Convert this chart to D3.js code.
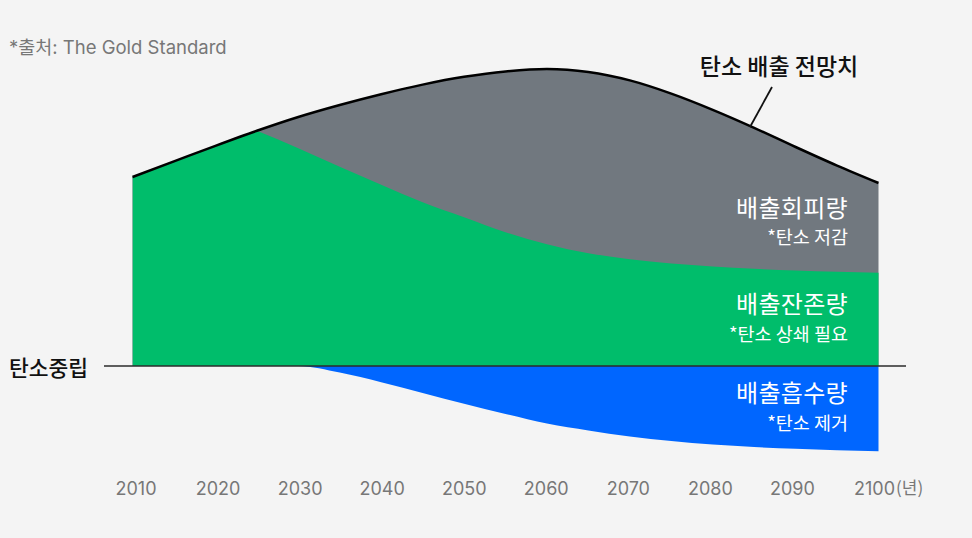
<!DOCTYPE html>
<html>
<head>
<meta charset="utf-8">
<script src="https://cdn.jsdelivr.net/npm/d3@7"></script>
<style>
  body { margin:0; background:#f4f4f4; }
  svg { display:block; font-family:"Noto Sans CJK KR", "Noto Sans", sans-serif; }
</style>
</head>
<body>
<script>
// years
var years = [2010, 2015, 2020, 2025, 2030, 2035, 2040, 2045, 2050, 2055, 2060, 2065, 2070, 2075, 2080, 2085, 2090, 2095, 2100];
// emission outlook (top black line)
var outlook = [31.5, 34.1, 36.7, 39.2, 41.5, 43.5, 45.3, 46.9, 48.2, 49.1, 49.5, 49.0, 47.6, 45.4, 42.7, 39.7, 36.5, 33.4, 30.5];
// remaining emissions (green), splits from the outlook at 2025
var remaining = [31.5, 34.1, 36.7, 39.2, 36.3, 33.2, 30.2, 27.3, 24.8, 22.3, 20.3, 18.8, 17.8, 17.1, 16.6, 16.2, 15.9, 15.7, 15.55];
// removal (blue, below zero)
var removal = [0, 0, 0, 0, 0, -1.1, -2.7, -4.5, -6.3, -8.0, -9.6, -10.75, -11.75, -12.5, -13.1, -13.5, -13.8, -14.05, -14.2];
var tickYears = [2010, 2020, 2030, 2040, 2050, 2060, 2070, 2080, 2090, 2100];
var splitYear = 2025;

var data = years.map(function(y, i){ return {year:y, top:outlook[i], rem:remaining[i], rmv:removal[i]}; });
var after = data.filter(function(d){ return d.year >= splitYear; });

var width = 972, height = 538;
var svg = d3.select("body").append("svg").attr("width", width).attr("height", height);

var x = d3.scaleLinear().domain([2010, 2100]).range([132.5, 878.5]);
var xTick = d3.scaleLinear().domain([2010, 2100]).range([135.5, 874]);
var y = d3.scaleLinear().domain([0, 50]).range([366, 66]);

var curve = d3.curveMonotoneX;

var defs = svg.append("defs");
defs.append("clipPath").attr("id", "leftClip").append("rect")
    .attr("x", x(2010)).attr("y", 0).attr("width", x(splitYear) - x(2010) + 0.8).attr("height", y(0));

// gray = avoided emissions (everything under the outlook)
svg.append("path")
   .attr("d", d3.area().curve(curve)
      .x(function(d){ return x(d.year); })
      .y0(y(0))
      .y1(function(d){ return y(d.top); })(data))
   .attr("fill", "#71787f");

// green = remaining: follows the outlook up to 2025, then its own curve
svg.append("path")
   .attr("clip-path", "url(#leftClip)")
   .attr("d", d3.area().curve(curve)
      .x(function(d){ return x(d.year); })
      .y0(y(0))
      .y1(function(d){ return y(d.top); })(data))
   .attr("fill", "#00bd6b");
svg.append("path")
   .attr("d", d3.area().curve(curve)
      .x(function(d){ return x(d.year); })
      .y0(y(0))
      .y1(function(d){ return y(d.rem); })(after))
   .attr("fill", "#00bd6b");

// blue = removal
svg.append("path")
   .attr("d", d3.area().curve(curve)
      .x(function(d){ return x(d.year); })
      .y0(y(0))
      .y1(function(d){ return y(d.rmv); })(data))
   .attr("fill", "#0066ff");

// outlook line
svg.append("path")
   .attr("d", d3.line().curve(curve)
      .x(function(d){ return x(d.year); })
      .y(function(d){ return y(d.top); })(data))
   .attr("fill", "none").attr("stroke", "#000").attr("stroke-width", 2.5);

// zero line
svg.append("line")
   .attr("x1", 104).attr("x2", 906).attr("y1", y(0)).attr("y2", y(0))
   .attr("stroke", "#2b2b2b").attr("stroke-width", 1.5);

svg.append("text").attr("x", 88).attr("y", 376).attr("text-anchor", "end")
   .attr("font-size", 21.5).attr("font-weight", 500).attr("fill", "#111").text("탄소중립");

// source
svg.append("text").attr("x", 9).attr("y", 54)
   .attr("font-family", "Inter, \"Noto Sans CJK KR\", sans-serif")
   .attr("font-size", 18.5).attr("fill", "#777").text("*출처: The Gold Standard");

// outlook label + leader
svg.append("text").attr("x", 779).attr("y", 75).attr("text-anchor", "middle")
   .attr("font-size", 23).attr("font-weight", 500).attr("fill", "#111").text("탄소 배출 전망치");
svg.append("line").attr("x1", 772).attr("y1", 87).attr("x2", 750).attr("y2", 127)
   .attr("stroke", "#111").attr("stroke-width", 1.8);

// area labels
var labels = [
  {t:"배출회피량", s:24, y:217}, {t:"*탄소 저감", s:18.5, y:244},
  {t:"배출잔존량", s:24, y:313}, {t:"*탄소 상쇄 필요", s:18.5, y:341},
  {t:"배출흡수량", s:24, y:402}, {t:"*탄소 제거", s:18.5, y:430}
];
svg.selectAll("text.lab").data(labels).enter().append("text")
   .attr("class", "lab").attr("x", 848).attr("y", function(d){ return d.y; })
   .attr("text-anchor", "end").attr("font-size", function(d){ return d.s; })
   .attr("letter-spacing", function(d){ return d.s > 20 ? 0.3 : 0; })
   .attr("fill", "#fff").text(function(d){ return d.t; });

// x axis labels
var xAxis = d3.axisBottom(xTick).tickValues(tickYears).tickFormat(d3.format("d")).tickSize(0).tickPadding(0);
var gx = svg.append("g").attr("transform", "translate(0,482)").call(xAxis);
gx.select(".domain").remove();
gx.selectAll("text").attr("font-size", 18).attr("fill", "#777")
   .attr("font-family", "Inter, sans-serif");
svg.append("text").attr("x", 896).attr("y", 494).attr("font-size", 17).attr("fill", "#777").text("(년)");
</script>
</body>
</html>
